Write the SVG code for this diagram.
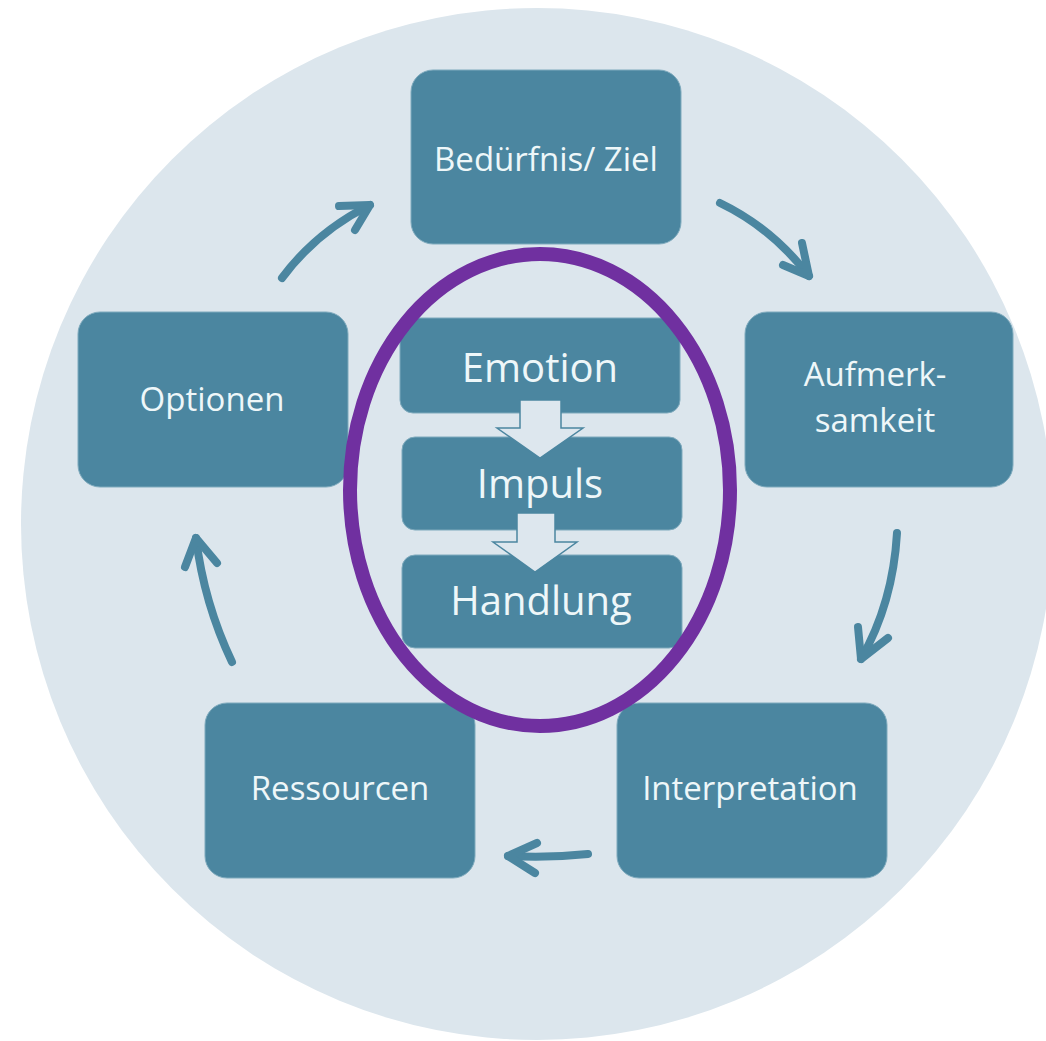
<svg xmlns="http://www.w3.org/2000/svg" width="1046" height="1041" viewBox="0 0 1046 1041">
<style>
.box{fill:#4b86a0;stroke:#7eaabd;stroke-width:1}
.lbl{font-family:"Open Sans","Liberation Sans",sans-serif;fill:#eef7f9;text-anchor:middle}
.t32{font-size:33px}
.t40{font-size:40px}
.con{fill:none;stroke:#4b86a0;stroke-width:8;stroke-linecap:round;stroke-linejoin:round}
.blk{fill:#dde7ee;stroke:#4b86a0;stroke-width:1.5;stroke-linejoin:miter}
</style>
<rect width="1046" height="1041" fill="#ffffff"/>
<circle cx="537" cy="524" r="516" fill="#dce6ed"/>

<g id="node-beduerfnis"><rect class="box" x="411" y="70" width="270" height="174" rx="22"/><text class="lbl t32" x="546" y="171">Bedürfnis/ Ziel</text></g>
<g id="node-optionen"><rect class="box" x="78" y="312" width="270" height="175" rx="22"/><text class="lbl t32" x="212" y="411">Optionen</text></g>
<g id="node-aufmerksamkeit"><rect class="box" x="745" y="312" width="268" height="175" rx="22"/><text class="lbl t32" x="875" y="386">Aufmerk-</text><text class="lbl t32" x="875" y="432">samkeit</text></g>
<g id="node-interpretation"><rect class="box" x="617" y="703" width="270" height="175" rx="22"/><text class="lbl t32" x="750" y="800">Interpretation</text></g>
<g id="node-ressourcen"><rect class="box" x="205" y="703" width="270" height="175" rx="22"/><text class="lbl t32" x="340" y="800">Ressourcen</text></g>

<g id="node-emotion"><rect class="box" x="400" y="318" width="280" height="95" rx="13"/><text class="lbl t40" x="540" y="382">Emotion</text></g>
<g id="node-impuls"><rect class="box" x="402" y="437" width="280" height="93" rx="13"/><text class="lbl t40" x="540" y="498">Impuls</text></g>
<g id="node-handlung"><rect class="box" x="402" y="555" width="280" height="93" rx="13"/><text class="lbl t40" x="541" y="615">Handlung</text></g>

<g id="connectors">
<polygon class="blk" points="520,400 561,400 561,428 583,428 540,458 497,428 520,428"/>
<polygon class="blk" points="517,513 555,513 555,542 577,542 535,572 493,542 517,542"/>
<path class="con" d="M282,278 Q316,232 370,205"/>
<path class="con" d="M339,206 L370,205 L355,230"/>
<path class="con" d="M720,203 Q772,228 809,276"/>
<path class="con" d="M783,265 L809,276 L802,243"/>
<path class="con" d="M897,533 Q893,603 861,659"/>
<path class="con" d="M858,627 L861,659 L888,638"/>
<path class="con" d="M588,854 Q550,858 508,856"/>
<path class="con" d="M537,843 L508,856 L535,873"/>
<path class="con" d="M232,662 Q204,603 196,538"/>
<path class="con" d="M185,567 L196,538 L217,563"/>
</g>

<g id="focus-ellipse"><ellipse cx="540" cy="490" rx="190" ry="236" fill="none" stroke="#7030a0" stroke-width="14"/></g>
</svg>
